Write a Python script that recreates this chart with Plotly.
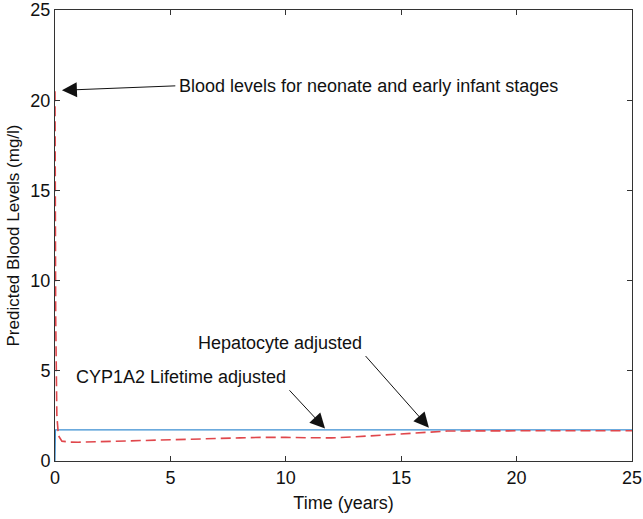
import plotly.graph_objects as go

# Data
t_base = [0, 0.02, 25]
v_base = [0, 1.72, 1.72]

t_adj = [0, 0.03, 0.08, 0.15, 0.3, 0.6, 1.0, 2, 3, 4, 5, 6, 7, 8, 9, 9.5, 10, 11, 12, 13, 14, 15, 16, 16.5, 17, 18, 20, 22, 25]
v_adj = [20.5, 8.0, 2.5, 1.4, 1.1, 1.05, 1.04, 1.08, 1.12, 1.16, 1.19, 1.22, 1.25, 1.28, 1.31, 1.32, 1.31, 1.29, 1.28, 1.34, 1.42, 1.5, 1.58, 1.63, 1.66, 1.67, 1.68, 1.68, 1.68]

x_ticks = [0, 5, 10, 15, 20, 25]
y_ticks = [0, 5, 10, 15, 20, 25]

FAM = "Liberation Sans, Arial, sans-serif"

fig = go.Figure()
fig.add_trace(go.Scatter(x=t_base, y=v_base, mode="lines",
                         line=dict(color="#3b8fd2", width=1.2), showlegend=False))
fig.add_trace(go.Scatter(x=t_adj, y=v_adj, mode="lines",
                         line=dict(color="#e0474c", width=1.6, dash="10px,5px"), showlegend=False))

font = dict(family=FAM, size=18, color="#111111")

def ann(text, x, y, ax, ay, xanchor, yanchor):
    fig.add_annotation(x=x, y=y, ax=ax, ay=ay, xref="x", yref="y", axref="x", ayref="y",
                       text=text, showarrow=True, arrowhead=2, arrowsize=3, arrowwidth=1,
                       arrowcolor="#111111", font=font, xanchor=xanchor, yanchor=yanchor,
                       standoff=0, startstandoff=2)

ann("Blood levels for neonate and early infant stages", 0.3, 20.55, 5.3, 20.8, "left", "middle")
ann("CYP1A2 Lifetime adjusted", 11.7, 1.8, 10.1, 4.0, "right", "bottom")
ann("Hepatocyte adjusted", 16.2, 1.85, 13.4, 5.9, "right", "bottom")

axis_common = dict(showline=True, linecolor="#333333", linewidth=1, mirror="ticks",
                   ticks="inside", ticklen=5, tickcolor="#333333", showgrid=False, zeroline=False,
                   ticklabeloverflow="allow", automargin=False,
                   tickfont=dict(family=FAM, size=18, color="#111111"))

fig.update_xaxes(range=[0, 25], tickvals=x_ticks,
                 title=dict(text="Time (years)", font=dict(family=FAM, size=18, color="#111111"), standoff=9),
                 **axis_common)
fig.update_yaxes(range=[0, 25], tickvals=y_ticks,
                 title=dict(text="Predicted Blood Levels (mg/l)", font=dict(family=FAM, size=17, color="#111111"), standoff=6),
                 **axis_common)

fig.update_layout(width=643, height=519, margin=dict(l=55, r=11, t=10, b=58),
                  plot_bgcolor="white", paper_bgcolor="white")

fig.write_html("out.html", config={"displayModeBar": False},
               post_script="document.body.style.margin='0';document.body.style.overflow='hidden';")
